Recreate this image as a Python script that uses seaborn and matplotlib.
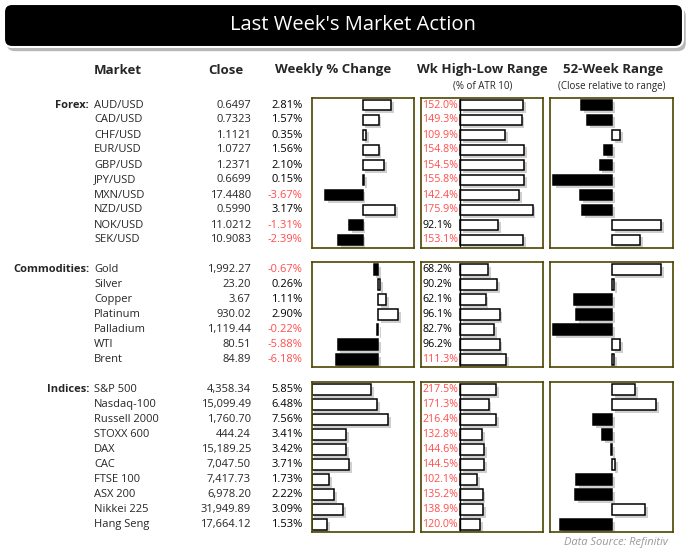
import matplotlib
matplotlib.use("Agg")
import matplotlib.pyplot as plt
import matplotlib.patheffects as pe
from matplotlib.patches import FancyBboxPatch
import seaborn as sns
import pandas as pd

sns.set_theme(style="white")
plt.rcParams["font.family"] = ["Open Sans", "DejaVu Sans"]

# ---- data ----
forex_names = ["AUD/USD", "CAD/USD", "CHF/USD", "EUR/USD", "GBP/USD",
               "JPY/USD", "MXN/USD", "NZD/USD", "NOK/USD", "SEK/USD"]
forex_close = [0.6497, 0.7323, 1.1121, 1.0727, 1.2371, 0.6699, 17.4480, 0.5990, 11.0212, 10.9083]
forex_chg = [2.81, 1.57, 0.35, 1.56, 2.10, 0.15, -3.67, 3.17, -1.31, -2.39]
forex_hl = [152.0, 149.3, 109.9, 154.8, 154.5, 155.8, 142.4, 175.9, 92.1, 153.1]
forex_52w = [-25, -20, 7, -6, -10, -48, -26, -24, 40, 23]

comm_names = ["Gold", "Silver", "Copper", "Platinum", "Palladium", "WTI", "Brent"]
comm_close = [1992.27, 23.20, 3.67, 930.02, 1119.44, 80.51, 84.89]
comm_chg = [-0.67, 0.26, 1.11, 2.90, -0.22, -5.88, -6.18]
comm_hl = [68.2, 90.2, 62.1, 96.1, 82.7, 96.2, 111.3]
comm_52w = [40, 2, -31, -29, -48, 7, 1.6]

idx_names = ["S&P 500", "Nasdaq-100", "Russell 2000", "STOXX 600", "DAX",
             "CAC", "FTSE 100", "ASX 200", "Nikkei 225", "Hang Seng"]
idx_close = [4358.34, 15099.49, 1760.70, 444.24, 15189.25, 7047.50, 7417.73, 6978.20, 31949.89, 17664.12]
idx_chg = [5.85, 6.48, 7.56, 3.41, 3.42, 3.71, 1.73, 2.22, 3.09, 1.53]
idx_hl = [217.5, 171.3, 216.4, 132.8, 144.6, 144.5, 102.1, 135.2, 138.9, 120.0]
idx_52w = [19, 36, -15, -8, -1, 3, -29, -30, 27, -42]

groups = [
    ("Forex:", forex_names, forex_close, forex_chg, forex_hl, forex_52w, 4, 105, (-5, 5), (-95, 201)),
    ("Commodities:", comm_names, comm_close, comm_chg, comm_hl, comm_52w, 2, 269.5, (-9.65, 5.13), (-95, 201)),
    ("Indices:", idx_names, idx_close, idx_chg, idx_hl, idx_52w, 2, 389.5, (0, 10.1), (-237, 499)),
]

W, H = 690, 554
RED = "#ff4d4d"
FRAME = "#4d4500"
ROW = 15
shadow = [pe.SimplePatchShadow(offset=(2, -2), shadow_rgbFace="#888888", alpha=0.4), pe.Normal()]

fig = plt.figure(figsize=(W / 100, H / 100), dpi=100)
bg = fig.add_axes([0, 0, 1, 1])
bg.set_xlim(0, W)
bg.set_ylim(H, 0)
bg.axis("off")

# title bar
box = FancyBboxPatch((4, 4), 679, 43, boxstyle="round,pad=0,rounding_size=8",
                     facecolor="black", edgecolor="white", linewidth=1.5)
box.set_path_effects([pe.SimplePatchShadow(offset=(2, -3), shadow_rgbFace="#888888", alpha=0.6), pe.Normal()])
bg.add_patch(box)
bg.text(353, 25, "Last Week's Market Action", color="white", fontsize=14.5, ha="center", va="center")

# headers
hdr = dict(fontsize=9.5, fontweight="bold", ha="center", va="center")
bg.text(118, 70, "Market", **hdr)
bg.text(226, 70, "Close", **hdr)
bg.text(333, 70, "Weekly % Change", **hdr)
bg.text(482, 70, "Wk High-Low Range", **hdr)
bg.text(613, 70, "52-Week Range", **hdr)
bg.text(483, 86, "(% of ATR 10)", fontsize=7, ha="center", va="center")
bg.text(612, 86, "(Close relative to range)", fontsize=7, ha="center", va="center")


def panel(x0, x1, top, n):
    ax = fig.add_axes([x0 / W, 1 - (top + ROW * n) / H, (x1 - x0) / W, ROW * n / H])
    ax.set_facecolor("white")
    for s in ax.spines.values():
        s.set_color(FRAME)
        s.set_linewidth(1.2)
    return ax


def bars(ax, names, vals, xlim):
    df = pd.DataFrame({"name": names, "val": vals,
                       "sign": ["pos" if v >= 0 else "neg" for v in vals]})
    sns.barplot(data=df, x="val", y="name", hue="sign", hue_order=["pos", "neg"],
                palette={"pos": "white", "neg": "black"}, dodge=False, legend=False,
                orient="h", width=0.72, errorbar=None, edgecolor="black",
                linewidth=1.1, ax=ax)
    for p in ax.patches:
        p.set_path_effects(shadow)
    ax.set_xlim(*xlim)
    ax.set_ylim(len(names) - 0.5, -0.5)
    ax.set_xticks([])
    ax.set_yticks([])
    ax.set_xlabel("")
    ax.set_ylabel("")


for label, names, close, chg, hl, pos52, dec, y0, chg_lim, hl_lim in groups:
    n = len(names)
    top = y0 - ROW / 2
    bg.text(89, y0, label, fontsize=8, fontweight="bold", ha="right", va="center")

    ax1 = panel(311.7, 413.7, top, n)
    bars(ax1, names, chg, chg_lim)

    ax2 = panel(420.7, 543, top, n)
    bars(ax2, names, hl, hl_lim)
    ax2.plot([0, 0], [n - 0.5, -0.38], color="black", linewidth=1)

    ax3 = panel(550.3, 673.3, top, n)
    bars(ax3, names, pos52, (-50, 50))

    for i, name in enumerate(names):
        y = y0 + i * ROW
        bg.text(94, y, name, fontsize=8, ha="left", va="center")
        bg.text(251, y, f"{close[i]:,.{dec}f}", fontsize=8, ha="right", va="center")
        bg.text(302.5, y, f"{chg[i]:.2f}%", fontsize=8, ha="right", va="center",
                color=RED if chg[i] < 0 else "black")
        ax2.text(422.5, y, f"{hl[i]:.1f}%", fontsize=7.7, ha="left", va="center",
                 transform=bg.transData, clip_on=False,
                 color=RED if hl[i] > 100 else "black")

bg.text(668, 543, "Data Source: Refinitiv", fontsize=8, style="italic",
        color="#999999", ha="right", va="center")

fig.savefig("out.png", dpi=100, facecolor="white")
